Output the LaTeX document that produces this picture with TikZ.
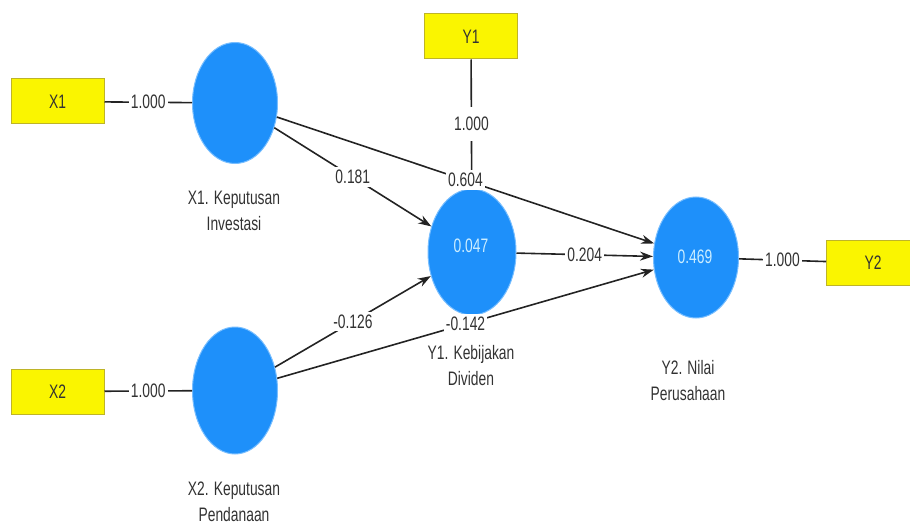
\documentclass[tikz,border=0pt]{standalone}
\usepackage{fontspec}
\setmainfont[FakeStretch=0.71]{Liberation Sans}
\usetikzlibrary{shapes.geometric,arrows.meta}
\definecolor{lvblue}{RGB}{30,144,250}
\definecolor{lvrim}{RGB}{120,190,255}
\definecolor{mvyellow}{RGB}{250,245,0}
\definecolor{mvborder}{RGB}{190,180,40}
\definecolor{incircle}{RGB}{205,238,255}
\definecolor{edgecol}{RGB}{35,35,35}
\definecolor{txtcol}{RGB}{50,50,50}
\begin{document}
\begin{tikzpicture}[x=1pt,y=-1pt,
  lv/.style={ellipse, fill=lvblue, draw=lvrim, line width=1pt, inner sep=0pt,
    text=incircle, font=\fontsize{19.5}{21}\selectfont},
  mv/.style={rectangle, fill=mvyellow, draw=mvborder, line width=1pt,
    minimum width=93pt, minimum height=45pt, inner sep=0pt,
    font=\fontsize{19.5}{21}\selectfont, text=txtcol},
  lbl/.style={font=\fontsize{19.5}{26}\selectfont, align=center, text=txtcol},
  coef/.style={fill=white, font=\fontsize{19.5}{21}\selectfont, inner xsep=2pt,
    inner ysep=3pt, text=txtcol},
  conn/.style={draw=edgecol, line width=1.6pt},
  arr/.style={conn, -{Stealth[length=13pt,width=9pt]}}
]
\useasboundingbox (0,0) rectangle (910,524);
\clip (0,0) rectangle (910,524);

% indicator boxes
\node[mv] (X1b) at (57.5,101.5) {X1};
\node[mv] (X2b) at (57.5,391.5) {X2};
\node[mv] (Y1b) at (471,36.5) {Y1};
\node[mv] (Y2b) at (873,263) {Y2};

% latent variables
\node[lv, minimum width=85pt, minimum height=121pt] (X1) at (235,103) {};
\node[lv, minimum width=85pt, minimum height=127pt] (X2) at (235,390.5) {};
\node[lv, minimum width=88pt, minimum height=126pt] (Y1) at (472,252) {};
\node[lv, minimum width=85pt, minimum height=121pt] (Y2) at (696,257.5) {};
\node[text=incircle, font=\fontsize{19.5}{21}\selectfont] (Y1v) at (471,246) {0.047};
\node[text=incircle, font=\fontsize{19.5}{21}\selectfont] (Y2v) at (695,257) {0.469};

% names
\node[lbl] (X1n) at (234,211) {X1. Keputusan\\Investasi};
\node[lbl] (X2n) at (234,502) {X2. Keputusan\\Pendanaan};
\node[lbl] (Y1n) at (471,366) {Y1. Kebijakan\\Dividen};
\node[lbl] (Y2n) at (688,381) {Y2. Nilai\\Perusahaan};

% outer loadings
\draw[conn] (X1b) -- node[coef]{1.000} (X1);
\draw[conn] (X2b) -- node[coef]{1.000} (X2);
\draw[conn] (Y1b) -- node[coef, inner ysep=10pt]{1.000} (Y1);
\draw[conn] (Y2) -- node[coef]{1.000} (Y2b);

% path coefficients
\draw[arr] (X1) -- node[coef]{0.181} (Y1);
\draw[arr] (X1) -- node[coef]{0.604} (Y2);
\draw[arr] (X2) -- node[coef]{-0.126} (Y1);
\draw[arr] (X2) -- node[coef]{-0.142} (Y2);
\draw[arr] (Y1) -- node[coef]{0.204} (Y2);
\end{tikzpicture}
\end{document}
